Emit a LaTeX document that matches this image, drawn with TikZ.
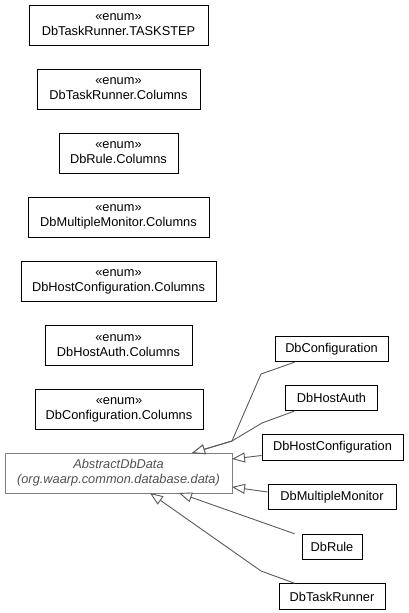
\documentclass[tikz,border=0pt]{standalone}
\usepackage{fontspec}
\setmainfont{Liberation Sans}
\usetikzlibrary{arrows.meta}
\definecolor{edgec}{HTML}{5A5A5A}
\definecolor{absc}{HTML}{808080}
\definecolor{abstxt}{HTML}{505050}
\begin{document}
\begin{tikzpicture}[x=1pt,y=-1pt,
  every node/.style={font=\fontsize{12.8}{15}\selectfont, inner sep=0pt, align=center},
  enumbox/.style={draw=black, line width=1pt, minimum height=40pt},
  classbox/.style={draw=black, line width=1pt, minimum height=25.5pt},
  absbox/.style={draw=absc, line width=1pt, minimum height=40pt, text=abstxt, font=\fontsize{12.8}{15}\selectfont\itshape},
  gen/.style={draw=edgec, line width=0.9pt, -{Triangle[open, length=13pt, width=10pt, fill=white]}}]
\useasboundingbox (0,0) rectangle (408,613);
% enum boxes
\node[enumbox, minimum width=179pt] (e1) at (118.5,25) {«enum»\\DbTaskRunner.TASKSTEP};
\node[enumbox, minimum width=163pt] (e2) at (118.5,89) {«enum»\\DbTaskRunner.Columns};
\node[enumbox, minimum width=119pt] (e3) at (118.5,153) {«enum»\\DbRule.Columns};
\node[enumbox, minimum width=181pt] (e4) at (118.5,217) {«enum»\\DbMultipleMonitor.Columns};
\node[enumbox, minimum width=195pt] (e5) at (118.5,281.5) {«enum»\\DbHostConfiguration.Columns};
\node[enumbox, minimum width=147pt] (e6) at (118.5,345.5) {«enum»\\DbHostAuth.Columns};
\node[enumbox, minimum width=168pt] (e7) at (119,409.5) {«enum»\\DbConfiguration.Columns};
% abstract class
\node[absbox, minimum width=227pt] (abs) at (118.5,473) {AbstractDbData\\(org.waarp.common.database.data)};
% subclasses
\node[classbox, minimum width=113pt] (c1) at (331.5,349) {DbConfiguration};
\node[classbox, minimum width=92pt] (c2) at (331.5,398) {DbHostAuth};
\node[classbox, minimum width=141pt] (c3) at (332.5,447.5) {DbHostConfiguration};
\node[classbox, minimum width=128pt] (c4) at (332,497) {DbMultipleMonitor};
\node[classbox, minimum width=60pt] (c5) at (332,547) {DbRule};
\node[classbox, minimum width=106pt] (c6) at (332,596.5) {DbTaskRunner};
% bend points and arrow tips
\coordinate (b1) at (261,374);
\coordinate (b2) at (262,423);
\coordinate (j12) at (232,441);
\coordinate (t12) at (192,453);
\coordinate (t3) at (232,459);
\coordinate (t4) at (232,487);
\coordinate (t5) at (179,493);
\coordinate (b6) at (261,571);
\coordinate (t6) at (150,493);
% edges
\draw[gen] (c1.south west) ++(20,0) -- (b1) -- (j12) -- (t12);
\draw[gen] (c2.south west) ++(9,0) -- (b2) -- (j12) -- (t12);
\draw[gen] (c3.west) ++(0,8) -- (t3);
\draw[gen] (c4.west) ++(0,-5) -- (t4);
\draw[gen] (c5.north west) ++(-7,0) -- (t5);
\draw[gen] (c6.north west) ++(16,0) -- (b6) -- (t6);
\end{tikzpicture}
\end{document}
